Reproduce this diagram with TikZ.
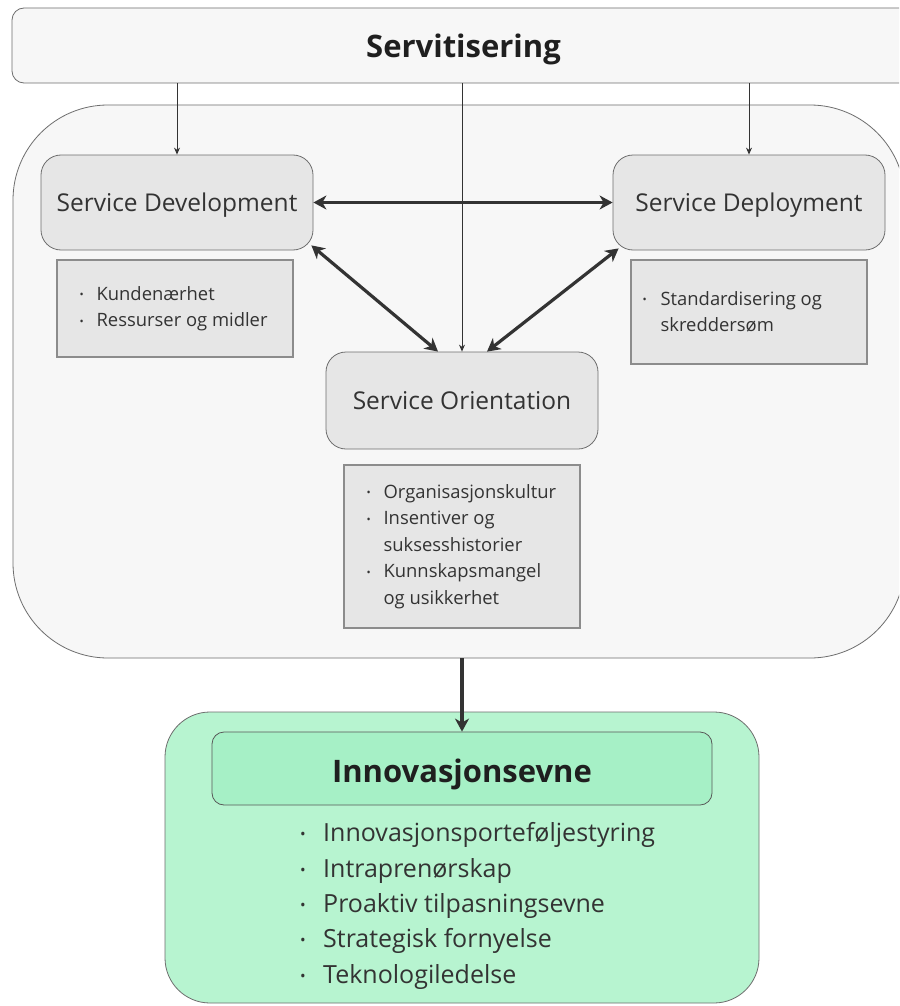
\documentclass[tikz,border=0pt]{standalone}
\usepackage{fontspec}
\setmainfont{Open Sans}
\usepackage{graphicx}
\usepackage{tikz}
\usetikzlibrary{arrows.meta}
\definecolor{framegray}{HTML}{F7F7F7}
\definecolor{boxgray}{HTML}{E6E6E6}
\definecolor{edgegray}{HTML}{6E6E6E}
\definecolor{listedge}{HTML}{8C8C8C}
\definecolor{arrowgray}{HTML}{333333}
\definecolor{textgray}{HTML}{333333}
\definecolor{mintouter}{HTML}{B7F4D0}
\definecolor{mintinner}{HTML}{A6F0C6}

\newcommand{\bul}[1]{\makebox[#1][l]{\raisebox{.08em}{\scalebox{.6}{\textbullet}}}}

\begin{document}
\begin{tikzpicture}[x=1pt,y=-1pt]
  \tikzset{
    frame/.style={draw=edgegray,fill=framegray,line width=0.8pt,inner sep=0pt},
    svc/.style={draw=edgegray,fill=boxgray,rounded corners=20pt,line width=0.8pt,
      minimum width=272pt,minimum height=95pt,text=textgray,
      text height=18pt,text depth=0pt,font=\fontsize{24.5}{29}\selectfont},
    listbox/.style={draw=listedge,fill=boxgray,line width=1.2pt,
      minimum width=236pt,inner sep=0pt},
    listtext/.style={anchor=west,align=left,text=textgray,inner sep=0pt,
      font=\fontsize{18.4}{26.5}\selectfont},
    thinarrow/.style={arrowgray,line width=0.9pt,-{Stealth[length=7pt,width=6pt]}},
    boldarrow/.style={arrowgray,line width=3.2pt,
      >={Stealth[length=13pt,width=14pt,inset=4pt]}},
  }
  \useasboundingbox (0,0) rectangle (899,1006);
  \fill[white] (0,0) rectangle (899,1006);
  \clip (0,0) rectangle (899,1006);

  % Outer frame and top bar (both run off the right edge).
  \node[frame,rounded corners=95pt,minimum width=892pt,minimum height=553pt]
    (outer) at (459,381.5) {};
  \node[frame,rounded corners=12pt,minimum width=903pt,minimum height=75pt,
    text height=25pt,text depth=0pt,text=black!88,
    font=\bfseries\fontsize{31}{36}\selectfont] (serv) at (463.5,45.5) {Servitisering};

  % Three service boxes.
  \node[svc] (sdev) at (177,202.5) {Service Development};
  \node[svc] (sdep) at (749,202.5) {Service Deployment};
  \node[svc,minimum height=97pt] (sorient) at (462,400.5) {Service Orientation};

  % Bullet boxes under each service box.
  \node[listbox,minimum height=97pt] (devbox) at (175,308.5) {};
  \node[listtext] (devlist) at ([xshift=23pt]devbox.west)
    {\bul{17pt}Kundenærhet\\\bul{17pt}Ressurser og midler};
  \node[listbox,minimum height=104pt] (depbox) at (749,312) {};
  \node[listtext] (deplist) at ([xshift=12pt]depbox.west)
    {\bul{18pt}Standardisering og\\\hspace*{18pt}skreddersøm};
  \node[listbox,minimum height=163pt] (orbox) at (462,546.5) {};
  \node[listtext] (orlist) at ([xshift=23pt]orbox.west)
    {\bul{17pt}Organisasjonskultur\\\bul{17pt}Insentiver og\\
     \hspace*{17pt}suksesshistorier\\\bul{17pt}Kunnskapsmangel\\
     \hspace*{17pt}og usikkerhet};

  % Innovation block.
  \node[draw=edgegray,fill=mintouter,line width=0.8pt,rounded corners=45pt,
    minimum width=594pt,minimum height=291pt] (innoframe) at (462,857.5) {};
  \node[draw=edgegray!80!black,fill=mintinner,line width=0.8pt,rounded corners=12pt,
    minimum width=500pt,minimum height=73pt,text height=27pt,text depth=0pt,
    text=black!88,font=\bfseries\fontsize{31}{36}\selectfont]
    (inno) at (462,768.5) {Innovasjonsevne};
  \node[listtext,font=\fontsize{25}{35.3}\selectfont] (innolist) at (300,906)
    {\bul{23pt}Innovasjonsporteføljestyring\\\bul{23pt}Intraprenørskap\\
     \bul{23pt}Proaktiv tilpasningsevne\\\bul{23pt}Strategisk fornyelse\\
     \bul{23pt}Teknologiledelse};

  % Connectors.
  \draw[boldarrow,<->] (sdev.east) -- (sdep.west);
  \draw[boldarrow,<->] ([shift={(-2,-5)}]sdev.south east) -- ([xshift=-24pt]sorient.north);
  \draw[boldarrow,<->] ([shift={(6,-2)}]sdep.south west) -- ([xshift=25pt]sorient.north);
  \draw[boldarrow,->] (inno.north |- outer.south) -- (inno.north);
  \draw[thinarrow] (sdev.north |- serv.south) -- (sdev.north);
  \draw[thinarrow] (sorient.north |- serv.south) -- (sorient.north);
  \draw[thinarrow] (sdep.north |- serv.south) -- (sdep.north);
\end{tikzpicture}
\end{document}
